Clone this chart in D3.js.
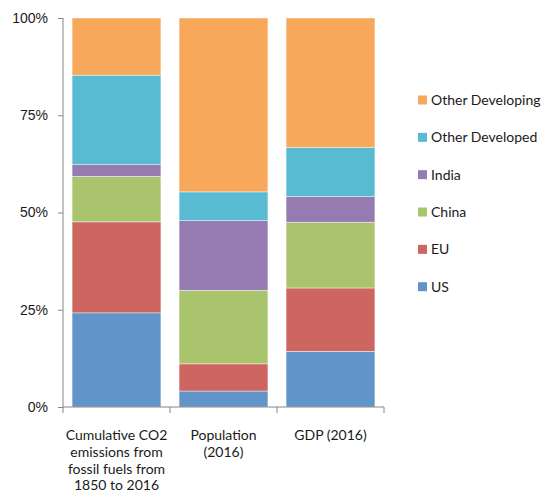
<!DOCTYPE html>
<html>
<head>
<meta charset="utf-8">
<script src="https://cdn.jsdelivr.net/npm/d3@7"></script>
<style>
  html, body { margin: 0; padding: 0; background: #fff; }
  svg { display: block; font-family: Lato, "Open Sans", sans-serif; }
  .axis path, .axis line { stroke: #868686; }
  .axis text { fill: #1a1a1a; font-size: 14px; }
  .legend text { fill: #1a1a1a; font-size: 14px; }
</style>
</head>
<body>
<svg id="chart" width="544" height="493"></svg>
<script>
// Data (shares, %)
const categories = [
  "Cumulative CO2\nemissions from\nfossil fuels from\n1850 to 2016",
  "Population\n(2016)",
  "GDP (2016)"
];
const series = ["US", "EU", "China", "India", "Other Developed", "Other Developing"];
const us              = [24.2,  4.1, 14.3];
const eu              = [23.4,  7.0, 16.3];
const china           = [11.7, 18.9, 16.9];
const india           = [ 3.0, 17.9,  6.6];
const otherDeveloped  = [23.0,  7.4, 12.6];
const otherDeveloping = [14.7, 44.7, 33.3];
const yTicks = [0, 25, 50, 75, 100];

const colors = ["#6194c9", "#cd6660", "#aac46e", "#957bb1", "#58bbd2", "#f8a85a"];

const values = [us, eu, china, india, otherDeveloped, otherDeveloping];
const rows = categories.map((c, i) => {
  const r = { cat: c };
  series.forEach((s, j) => r[s] = values[j][i]);
  return r;
});

const svg = d3.select("#chart");
const margin = { top: 18, right: 160, bottom: 86, left: 63 };
const innerW = 384 - margin.left;
const innerH = 407 - margin.top;

const g = svg.append("g").attr("transform", `translate(${margin.left},${margin.top})`);

const x = d3.scaleBand()
  .domain(categories)
  .range([0, innerW])
  .paddingInner(0.17)
  .paddingOuter(0.085);

const y = d3.scaleLinear().domain([0, 100]).range([innerH, 0]);

const stacked = d3.stack().keys(series)(rows);

// Bars
g.append("g")
  .selectAll("g")
  .data(stacked)
  .join("g")
  .attr("fill", (d, i) => colors[i])
  .selectAll("rect")
  .data(d => d)
  .join("rect")
  .attr("x", d => x(d.data.cat))
  .attr("y", d => y(d[1]))
  .attr("width", x.bandwidth())
  .attr("height", d => y(d[0]) - y(d[1]))
  .attr("stroke", "#fff")
  .attr("stroke-opacity", 0.6)
  .attr("stroke-width", 0.7);

// Y axis
g.append("g")
  .attr("class", "axis")
  .call(d3.axisLeft(y).tickValues(yTicks).tickSize(5).tickPadding(10).tickFormat(d => d + "%"))
  .call(a => a.select(".domain").attr("d", `M0,0V${innerH}`));

// X axis with boundary ticks
const xa = g.append("g")
  .attr("class", "axis")
  .attr("transform", `translate(0,${innerH})`);
xa.append("path").attr("d", `M0,0H${innerW}`).attr("fill", "none").attr("stroke", "#868686");
const step = x.step();
const bounds = d3.range(categories.length + 1).map(i => x(categories[0]) - step * x.paddingInner() / 2 + i * step);
xa.selectAll(".bt")
  .data(bounds)
  .join("line")
  .attr("class", "bt")
  .attr("x1", d => d).attr("x2", d => d)
  .attr("y1", 0).attr("y2", 6);

xa.selectAll(".lbl")
  .data(categories)
  .join("text")
  .attr("class", "lbl")
  .attr("text-anchor", "middle")
  .attr("x", d => x(d) + x.bandwidth() / 2)
  .attr("y", 33)
  .style("font-size", "14px")
  .style("fill", "#1a1a1a")
  .each(function(d) {
    const t = d3.select(this);
    d.split("\n").forEach((line, i) => {
      t.append("tspan")
        .attr("x", x(d) + x.bandwidth() / 2)
        .attr("dy", i === 0 ? 0 : 16.8)
        .text(line);
    });
  });

// Legend
const legend = svg.append("g").attr("class", "legend");
const legendRows = series.slice().reverse();
const ly = d3.scalePoint().domain(legendRows).range([100, 286.7]);
const li = legend.selectAll("g")
  .data(legendRows)
  .join("g")
  .attr("transform", d => `translate(418,${ly(d)})`);
li.append("rect")
  .attr("x", 0).attr("y", -4.5)
  .attr("width", 9).attr("height", 9)
  .attr("fill", d => colors[series.indexOf(d)]);
li.append("text")
  .attr("x", 13)
  .attr("y", 5)
  .text(d => d);
</script>
</body>
</html>
